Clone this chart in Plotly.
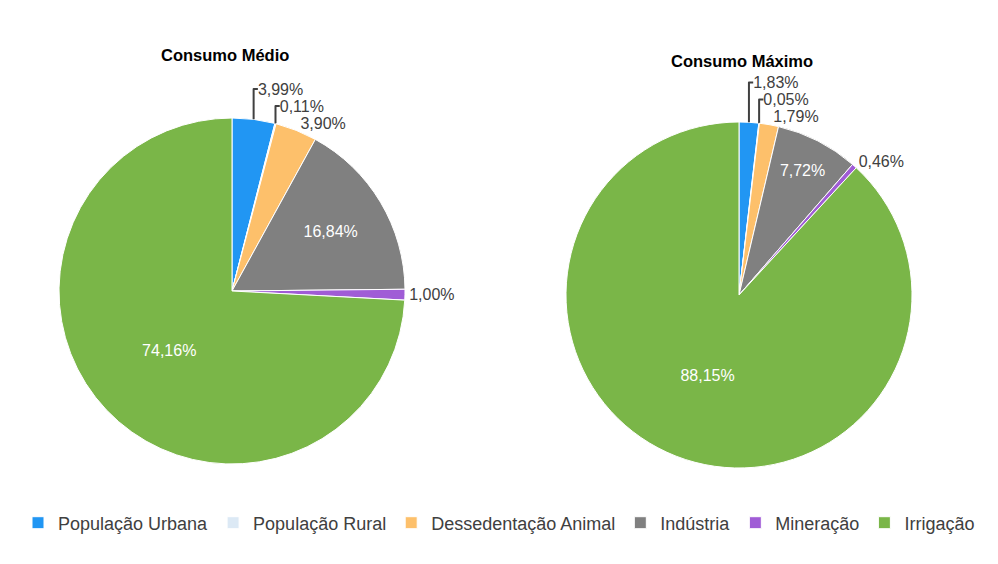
import plotly.graph_objects as go

categories = ["População Urbana", "População Rural", "Dessedentação Animal",
              "Indústria", "Mineração", "Irrigação"]
consumo_medio = [3.99, 0.11, 3.90, 16.84, 1.00, 74.16]
consumo_maximo = [1.83, 0.05, 1.79, 7.72, 0.46, 88.15]
titles = ["Consumo Médio", "Consumo Máximo"]

colors = ["#2196F3", "#DCE9F5", "#FDC06B", "#808080", "#A05CD6", "#7AB648"]
FONT = "Liberation Sans, Arial, sans-serif"


def fmt(v):
    return f"{v:.2f}".replace(".", ",") + "%"


pos_medio = ["outside", "outside", "outside", "inside", "outside", "inside"]
pos_max = ["outside", "outside", "outside", "inside", "outside", "inside"]

fig = go.Figure()
fig.add_trace(go.Pie(
    labels=categories, values=consumo_medio, text=[fmt(v) for v in consumo_medio],
    textinfo="text", textposition=pos_medio, sort=False, direction="clockwise",
    rotation=0, marker=dict(colors=colors, line=dict(color="white", width=1)),
    insidetextorientation="horizontal",
    insidetextfont=dict(color="white", size=16, family=FONT),
    outsidetextfont=dict(color="#404040", size=16, family=FONT),
    domain=dict(x=[59 / 998, 405 / 998], y=[1 - 464 / 564, 1 - 118 / 564]),
    hoverinfo="label+text",
))
fig.add_trace(go.Pie(
    labels=categories, values=consumo_maximo, text=[fmt(v) for v in consumo_maximo],
    textinfo="text", textposition=pos_max, sort=False, direction="clockwise",
    rotation=0, marker=dict(colors=colors, line=dict(color="white", width=1)),
    insidetextorientation="horizontal",
    insidetextfont=dict(color="white", size=16, family=FONT),
    outsidetextfont=dict(color="#404040", size=16, family=FONT),
    domain=dict(x=[566 / 998, 912 / 998], y=[1 - 468 / 564, 1 - 122 / 564]),
    hoverinfo="label+text",
))

fig.update_layout(
    width=998, height=564,
    margin=dict(l=0, r=0, t=0, b=0),
    paper_bgcolor="white", plot_bgcolor="white",
    font=dict(family=FONT, color="#404040"),
    showlegend=True,
    legend=dict(orientation="h", x=0.5, xanchor="center", y=1 - 523 / 564,
                yanchor="middle", font=dict(size=18, color="#404040", family=FONT),
                traceorder="normal", itemwidth=30),
    annotations=[
        dict(text=f"<b>{titles[0]}</b>", x=225 / 998, y=1 - 55 / 564, xref="paper",
             yref="paper", xanchor="center", yanchor="middle", showarrow=False,
             font=dict(size=16.5, color="#000000", family=FONT)),
        dict(text=f"<b>{titles[1]}</b>", x=742 / 998, y=1 - 61 / 564, xref="paper",
             yref="paper", xanchor="center", yanchor="middle", showarrow=False,
             font=dict(size=16.5, color="#000000", family=FONT)),
    ],
)

fig.write_html("out.html", config={"displayModeBar": False},
               post_script="document.body.style.margin='0';")
